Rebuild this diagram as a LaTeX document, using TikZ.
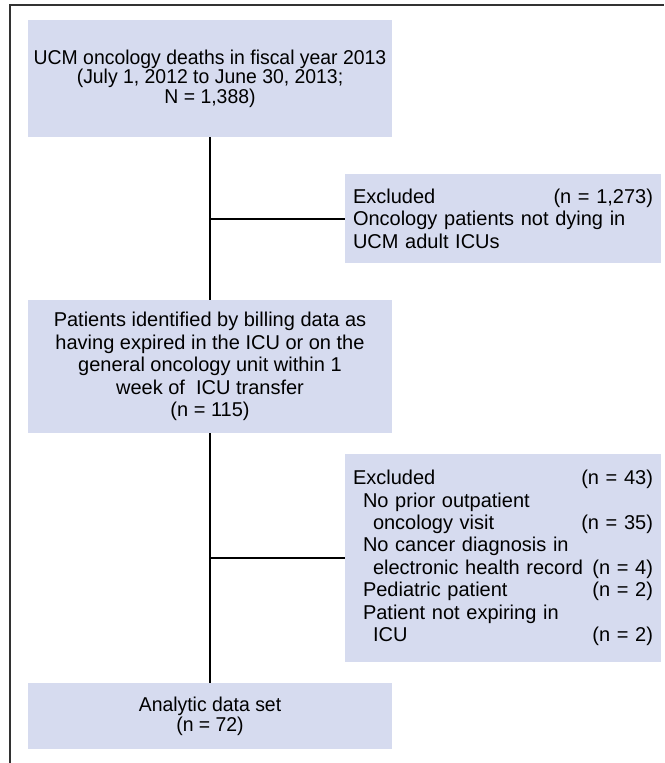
\documentclass[tikz,border=0pt]{standalone}
\usepackage{fontspec}
\setmainfont{Liberation Sans}
\newfontfamily\condfont{Liberation Sans}[FakeStretch=0.97]
\definecolor{boxfill}{RGB}{214,219,239}
\definecolor{framegray}{RGB}{50,50,50}
\begin{document}
\begin{tikzpicture}[x=1pt,y=-1pt,
  box/.style={fill=boxfill, draw=none, inner sep=0pt},
  mainbox/.style={box, minimum width=364pt},
  sidebox/.style={box, minimum width=316pt, text width=300pt, align=left},
  condtext/.style={font=\condfont\fontsize{20}{18.5}\selectfont, align=center},
  regtext/.style={font=\fontsize{20}{22.4}\selectfont},
  conn/.style={line width=2pt, black}]
\useasboundingbox (0,0) rectangle (664,763);
% frame
\draw[framegray, line width=1.5pt] (10,763) -- (10,5) -- (664,5);
% boxes
\node[mainbox, minimum height=117pt, condtext] (b1) at (210,78.5)
  {UCM oncology deaths in fiscal year 2013\\(July 1, 2012 to June 30, 2013;\\N = 1,388)};
\node[sidebox, minimum height=89pt, regtext] (b2) at (503,218.5)
  {Excluded\hfill(n = 1,273)\\Oncology patients not dying in\\UCM adult ICUs};
\node[mainbox, minimum height=133pt, regtext, align=center] (b3) at (210,366.5)
  {Patients identified by billing data as\\having expired in the ICU or on the\\general oncology unit within 1\\week of\ \ ICU transfer\\(n = 115)};
\node[sidebox, minimum height=208pt, regtext] (b4) at (503,558)
  {Excluded\hfill(n = 43)\\
   \hspace*{10pt}No prior outpatient\\
   \hspace*{20pt}oncology visit\hfill(n = 35)\\
   \hspace*{10pt}No cancer diagnosis in\\
   \hspace*{20pt}electronic health record\hfill(n = 4)\\
   \hspace*{10pt}Pediatric patient\hfill(n = 2)\\
   \hspace*{10pt}Patient not expiring in\\
   \hspace*{20pt}ICU\hfill(n = 2)};
\node[mainbox, minimum height=66pt, condtext] (b5) at (210,716)
  {Analytic data set\\(n = 72)};
% connectors
\coordinate (j1) at (b1.south |- b2.west);
\coordinate (j2) at (b3.south |- b4.west);
\draw[conn] (b1.south) -- (b3.north);
\draw[conn] (b3.south) -- (b5.north);
\draw[conn] (j1) -- (b2.west);
\draw[conn] (j2) -- (b4.west);
\end{tikzpicture}
\end{document}
